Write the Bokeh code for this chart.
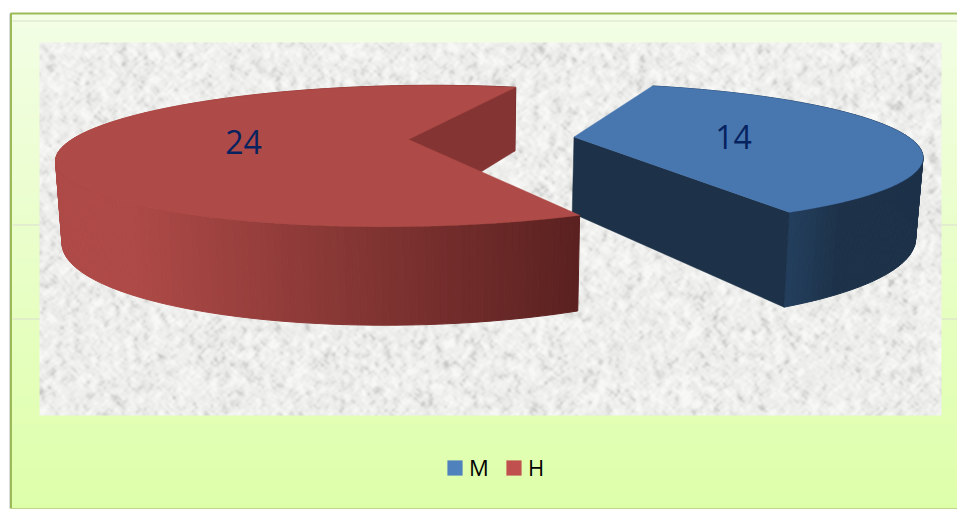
import numpy as np
from bokeh.plotting import figure
from bokeh.models import Range1d, Legend, LegendItem
from bokeh.core.properties import value as bvalue
from bokeh.embed import file_html
from bokeh.resources import INLINE

# ---- chart data ----
categories = ["M", "H"]
values = [14, 24]

# ---- styling and layout ----
legend_colors = ["#4F81BD", "#C0504D"]
top_colors = ["#4877B0", "#AE4A47"]
inner_colors = ["#1D3249", "#843533"]
side_from = [(36, 64, 96), (174, 74, 71)]
side_to = [(29, 50, 73), (90, 33, 32)]
side_x = [(783.0, 840.0), (130.0, 579.0)]
apex = [(573.5, 136.5), (408.0, 139.0)]
ell_y = [154.0, 155.5]
axis_a = [349.0, 353.0]
axis_b = [71.0, 70.5]
shear = [3.0, -5.0]
start_deg = [-77.0, 61.0]
arc_scale = [0.972, 0.997]
label_xy = [(733, 136), (243, 141)]

W, H = 957, 509
p = figure(width=W, height=H, x_range=Range1d(0, 957), y_range=Range1d(509, 0),
           output_backend="svg", toolbar_location=None, min_border=0,
           background_fill_color="white", border_fill_color="white")
p.axis.visible = False
p.grid.visible = False
p.outline_line_color = None


def mix(a, b, f):
    f = float(np.clip(f, 0, 1))
    return "#%02x%02x%02x" % tuple(int(round(a[i] + (b[i] - a[i]) * f)) for i in range(3))


# panel: soft shadow, vertical gradient, gridlines, border
p.quad(left=[8.5], right=[10.5], top=[13], bottom=[508], fill_color="#DADADA", line_color=None)
edges = np.linspace(13, 508, 100)
cols = [mix((243, 254, 229), (222, 255, 170), i / 98) for i in range(99)]
p.quad(left=10.5, right=957, top=edges[:-1], bottom=edges[1:] + 0.5, fill_color=cols, line_color=None)
p.segment(x0=[12, 12, 12], x1=[957, 957, 957], y0=[20.5, 224.5, 318.5], y1=[20.5, 224.5, 318.5],
          line_color="#D9DDD0", line_width=1)
p.line([10.5, 10.5, 957], [508, 13, 13], line_color="#9BBB59", line_width=2)
p.line([10.5, 957], [508, 508], line_color="#BFD68A", line_width=1)

# speckled stone picture behind the pie (deterministic procedural texture)
ih, iw = 373, 902
yy, xx = np.mgrid[0:ih, 0:iw]
n = np.sin(xx * 12.9898 + yy * 78.233) * 43758.5453
n = n - np.floor(n)
def blur(a, dx, dy, k):
    out = a.copy()
    for i in range(1, k):
        out += np.roll(np.roll(a, i * dx, axis=1), i * dy, axis=0)
    return out / k
f1 = blur(blur(n, 1, 1, 5), 1, -1, 2)
f2 = blur(blur(n, 1, -1, 5), 1, 1, 2)
f = blur(blur(f1 + f2, 1, 0, 3), 0, 1, 3)
f = (f - f.mean()) / f.std()
g = np.clip(238 + 5.0 * f - 4.0 * np.clip(-f - 0.8, 0, None) * 2, 200, 248)
r8 = np.clip(g + 0.5, 0, 255).astype(np.uint32)
g8 = np.clip(g + 0.5, 0, 255).astype(np.uint32)
b8 = np.clip(g - 1.5, 0, 255).astype(np.uint32)
img = (255 << 24) | (b8 << 16) | (g8 << 8) | r8
p.image_rgba(image=[img.astype(np.uint32)], x=39, y=42, dw=iw, dh=ih)


def rim(i, t_deg):
    t = np.radians(t_deg)
    x = apex[i][0] + axis_a[i] * np.cos(t)
    y = ell_y[i] + axis_b[i] * np.sin(t) + shear[i] * np.cos(t)
    return x, y


def drop(x, y):
    # lower edge of the disc: perspective extrusion of a top-face point
    return 461 + 0.984 * (np.asarray(x) - 461), 1.25 * np.asarray(y) + 42


total = sum(values)
# blue first, red on top
for i in range(len(values)):
    span = 360.0 * values[i] / total * arc_scale[i]
    t = np.linspace(start_deg[i], start_deg[i] + span, int(span / 1.2) + 2)
    rx, ry = rim(i, t)
    bx, by = drop(rx, ry)
    ax, ay = apex[i]
    abx, aby = drop(ax, ay)

    # curved outer wall as shaded strips
    xs, ys, cs = [], [], []
    for j in range(len(t) - 1):
        xs.append([rx[j], rx[j + 1], bx[j + 1], bx[j]])
        ys.append([ry[j], ry[j + 1], by[j + 1], by[j]])
        cs.append(mix(side_from[i], side_to[i], ((rx[j] + rx[j + 1]) / 2 - side_x[i][0]) / (side_x[i][1] - side_x[i][0])))
    p.patches(xs, ys, fill_color=cs, line_color=cs, line_width=1)

    # straight inner wall that faces the viewer
    wall = [(ax, ay), (rx[-1], ry[-1]), (bx[-1], by[-1]), (abx, aby)]
    p.patch([c[0] for c in wall], [c[1] for c in wall], fill_color=inner_colors[i], line_color=inner_colors[i], line_width=0.5)

    # top face
    p.patch(np.r_[ax, rx], np.r_[ay, ry], fill_color=top_colors[i], line_color=top_colors[i], line_width=0.5)

# value labels
p.text(x=[c[0] for c in label_xy], y=[c[1] for c in label_xy], text=[str(v) for v in values],
       text_font=bvalue("Open Sans"), text_font_size="32px", text_color="#06225F",
       text_align="center", text_baseline="middle")

# legend
swatches = [p.quad(left=[np.nan], right=[np.nan], top=[np.nan], bottom=[np.nan], fill_color=c, line_color=None) for c in legend_colors]
legend = Legend(items=[LegendItem(label=c, renderers=[r]) for c, r in zip(categories, swatches)],
                orientation="horizontal", location=(445, 27), padding=0, margin=0, spacing=15,
                glyph_width=19, glyph_height=19, label_standoff=5, label_height=20,
                label_text_font="Open Sans", label_text_font_size="22px", label_text_color="#000000",
                background_fill_alpha=0, border_line_color=None)
p.add_layout(legend)

open("out.html", "w").write(file_html(p, INLINE))
